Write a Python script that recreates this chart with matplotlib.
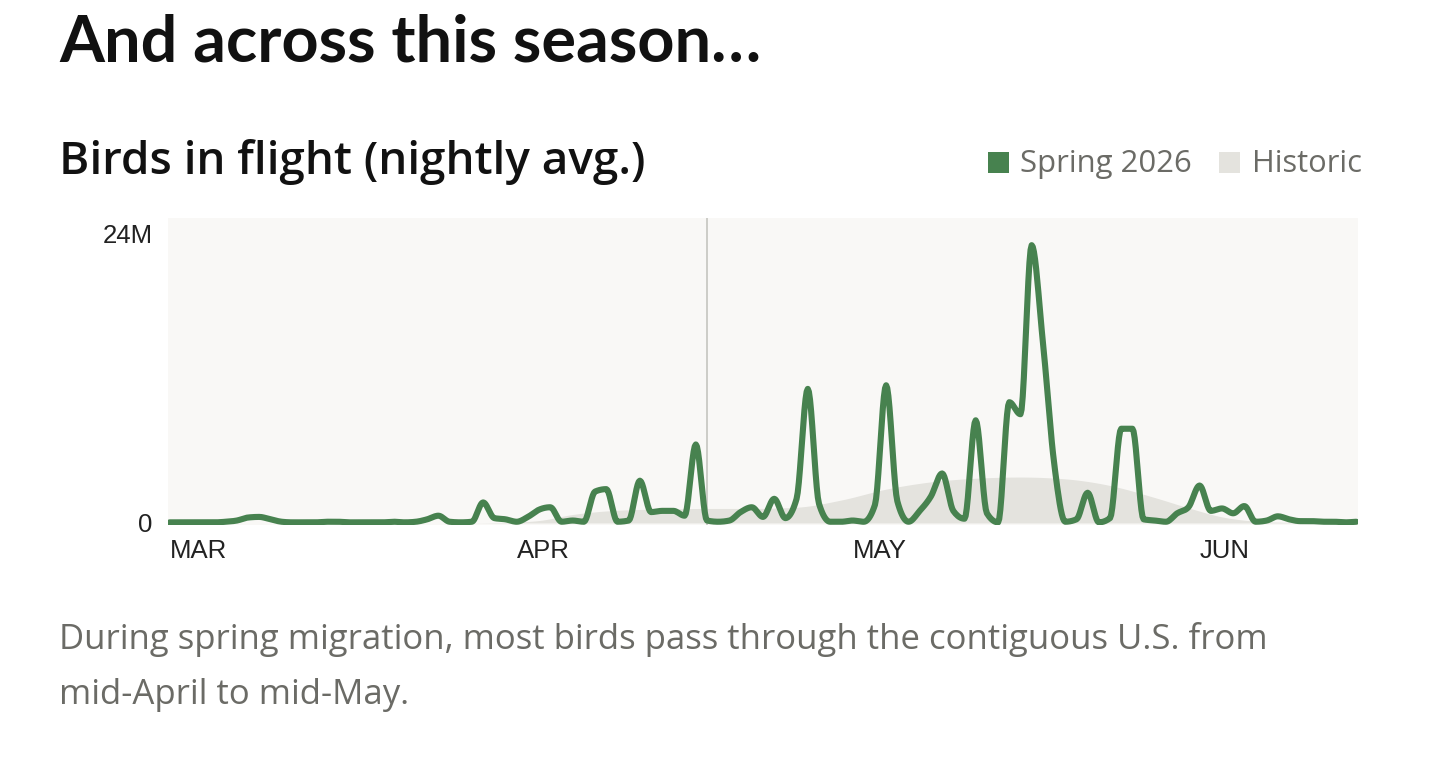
import numpy as np
import pandas as pd
import matplotlib
matplotlib.use("Agg")
import matplotlib.pyplot as plt
from matplotlib.patches import Rectangle

# nightly average birds in flight, millions, one value per night from Mar 1
start = pd.Timestamp("2026-03-01")
spring_2026 = [
    0.05, 0.05, 0.05, 0.05, 0.05, 0.1, 0.2, 0.45, 0.5, 0.3,
    0.1, 0.05, 0.05, 0.05, 0.1, 0.1, 0.05, 0.05, 0.05, 0.05,
    0.1, 0.05, 0.1, 0.3, 0.6, 0.1, 0.05, 0.1, 1.7, 0.4,
    0.3, 0.1, 0.5, 1.1, 1.3, 0.1, 0.2, 0.1, 2.6, 2.8,
    0.1, 0.2, 3.5, 0.9, 1.0, 1.0, 0.6, 6.5, 0.2, 0.1,
    0.2, 0.9, 1.3, 0.5, 2.0, 0.4, 2.0, 11.1, 1.6, 0.1,
    0.1, 0.2, 0.1, 1.5, 11.4, 1.8, 0.1, 1.0, 2.2, 4.1,
    1.0, 0.35, 8.5, 0.8, 0.05, 10.0, 9.0, 23.0, 15.0, 5.0,
    0.1, 0.3, 2.5, 0.05, 0.4, 7.8, 7.8, 0.3, 0.2, 0.1,
    0.8, 1.3, 3.1, 1.0, 1.2, 0.8, 1.4, 0.1, 0.2, 0.55,
    0.3, 0.15, 0.15, 0.1, 0.1, 0.05, 0.1,
]

# historic average, read at a few nights (days since Mar 1)
hist_days = [0, 26, 30, 33, 36, 40, 44, 48, 52, 56, 60, 64, 68, 72, 76, 80, 84, 88, 91, 94, 97, 100, 106]
hist_vals = [0, 0, 0.05, 0.2, 0.7, 1.05, 1.15, 1.2, 1.2, 1.3, 1.9, 2.8, 3.4, 3.7, 3.8, 3.65, 3.1, 2.1, 1.25, 0.5, 0.15, 0.05, 0]

month_labels = ["MAR", "APR", "MAY", "JUN"]
month_starts = pd.to_datetime(["2026-03-01", "2026-04-01", "2026-05-01", "2026-06-01"])
marker_date = pd.Timestamp("2026-04-18")

GREEN = "#47824f"
HIST = "#e4e3de"
BG = "#f9f8f6"
GREY_TXT = "#6b6b66"


def monotone(x, y, n=10):
    # monotone cubic curve through the points, like d3.curveMonotoneX
    x = np.asarray(x, float)
    y = np.asarray(y, float)
    h = np.diff(x)
    s = np.diff(y) / h
    m = np.empty_like(y)
    m[0], m[-1] = s[0], s[-1]
    p = (s[:-1] * h[1:] + s[1:] * h[:-1]) / (h[:-1] + h[1:])
    m[1:-1] = (np.sign(s[:-1]) + np.sign(s[1:])) * np.minimum(
        np.minimum(np.abs(s[:-1]), np.abs(s[1:])), 0.5 * np.abs(p))
    t = np.linspace(0, 1, n, endpoint=False)
    h00 = 2 * t**3 - 3 * t**2 + 1
    h10 = t**3 - 2 * t**2 + t
    h01 = -2 * t**3 + 3 * t**2
    h11 = t**3 - t**2
    xs, ys = [], []
    for i in range(len(h)):
        xs.append(x[i] + t * h[i])
        ys.append(h00 * y[i] + h10 * h[i] * m[i] + h01 * y[i + 1] + h11 * h[i] * m[i + 1])
    xs.append([x[-1]])
    ys.append([y[-1]])
    return np.concatenate(xs), np.concatenate(ys)


W, H = 1440, 762
fig = plt.figure(figsize=(W / 100, H / 100), dpi=100)
fig.patch.set_facecolor("white")


def fx(px):
    return px / W


def fy(py):
    return 1 - py / H


ax = fig.add_axes([fx(168), fy(525), fx(1358) - fx(168), fy(218) - fy(525)])
ax.set_facecolor(BG)
for sp in ax.spines.values():
    sp.set_visible(False)

days = np.arange(len(spring_2026))
hx, hy = monotone(hist_days, hist_vals)
ax.fill_between(hx, 0, np.clip(hy, 0, None), color=HIST, lw=0, zorder=1)

ax.axvline((marker_date - start).days, color="#c9c9c4", lw=1.3, zorder=2)

sx, sy = monotone(days, spring_2026)
ax.plot(sx, np.clip(sy, 0, None), color=GREEN, lw=4.4, solid_joinstyle="round",
        solid_capstyle="round", zorder=3)

ax.set_xlim(-0.15, 106.15)
ax.set_ylim(-0.17, 25.25)

ax.set_yticks([0, 24], ["0", "24M"])
ax.set_xticks([(d - start).days for d in month_starts], month_labels)
ax.tick_params(length=0, labelsize=18.5, labelcolor="#222222")
ax.tick_params(axis="y", pad=11)
ax.tick_params(axis="x", pad=10)
for lab in ax.get_xticklabels() + ax.get_yticklabels():
    lab.set_fontfamily("Liberation Sans")
for lab in ax.get_xticklabels():
    lab.set_horizontalalignment("left")

fig.text(fx(59), fy(62), "And across this season…", family="Lato", weight="bold",
         fontsize=46.6, color="#111111", va="baseline")
fig.text(fx(59), fy(174), "Birds in flight (nightly avg.)", family="Open Sans", weight="semibold",
         fontsize=33, color="#111111", va="baseline")

# legend
fig.add_artist(Rectangle((fx(988), fy(173)), fx(21), fy(152) - fy(173),
                         transform=fig.transFigure, color=GREEN, lw=0))
fig.text(fx(1020), fy(172), "Spring 2026", family="Open Sans", fontsize=22.4,
         color=GREY_TXT, va="baseline")
fig.add_artist(Rectangle((fx(1219), fy(173)), fx(21), fy(152) - fy(173),
                         transform=fig.transFigure, color=HIST, lw=0))
fig.text(fx(1252), fy(172), "Historic", family="Open Sans", fontsize=22.2,
         color=GREY_TXT, va="baseline")

fig.text(fx(59), fy(649), "During spring migration, most birds pass through the contiguous U.S. from",
         family="Open Sans", fontsize=25, color=GREY_TXT, va="baseline")
fig.text(fx(59), fy(704), "mid-April to mid-May.", family="Open Sans", fontsize=25,
         color=GREY_TXT, va="baseline")

fig.savefig("out.png", dpi=100, facecolor="white")
